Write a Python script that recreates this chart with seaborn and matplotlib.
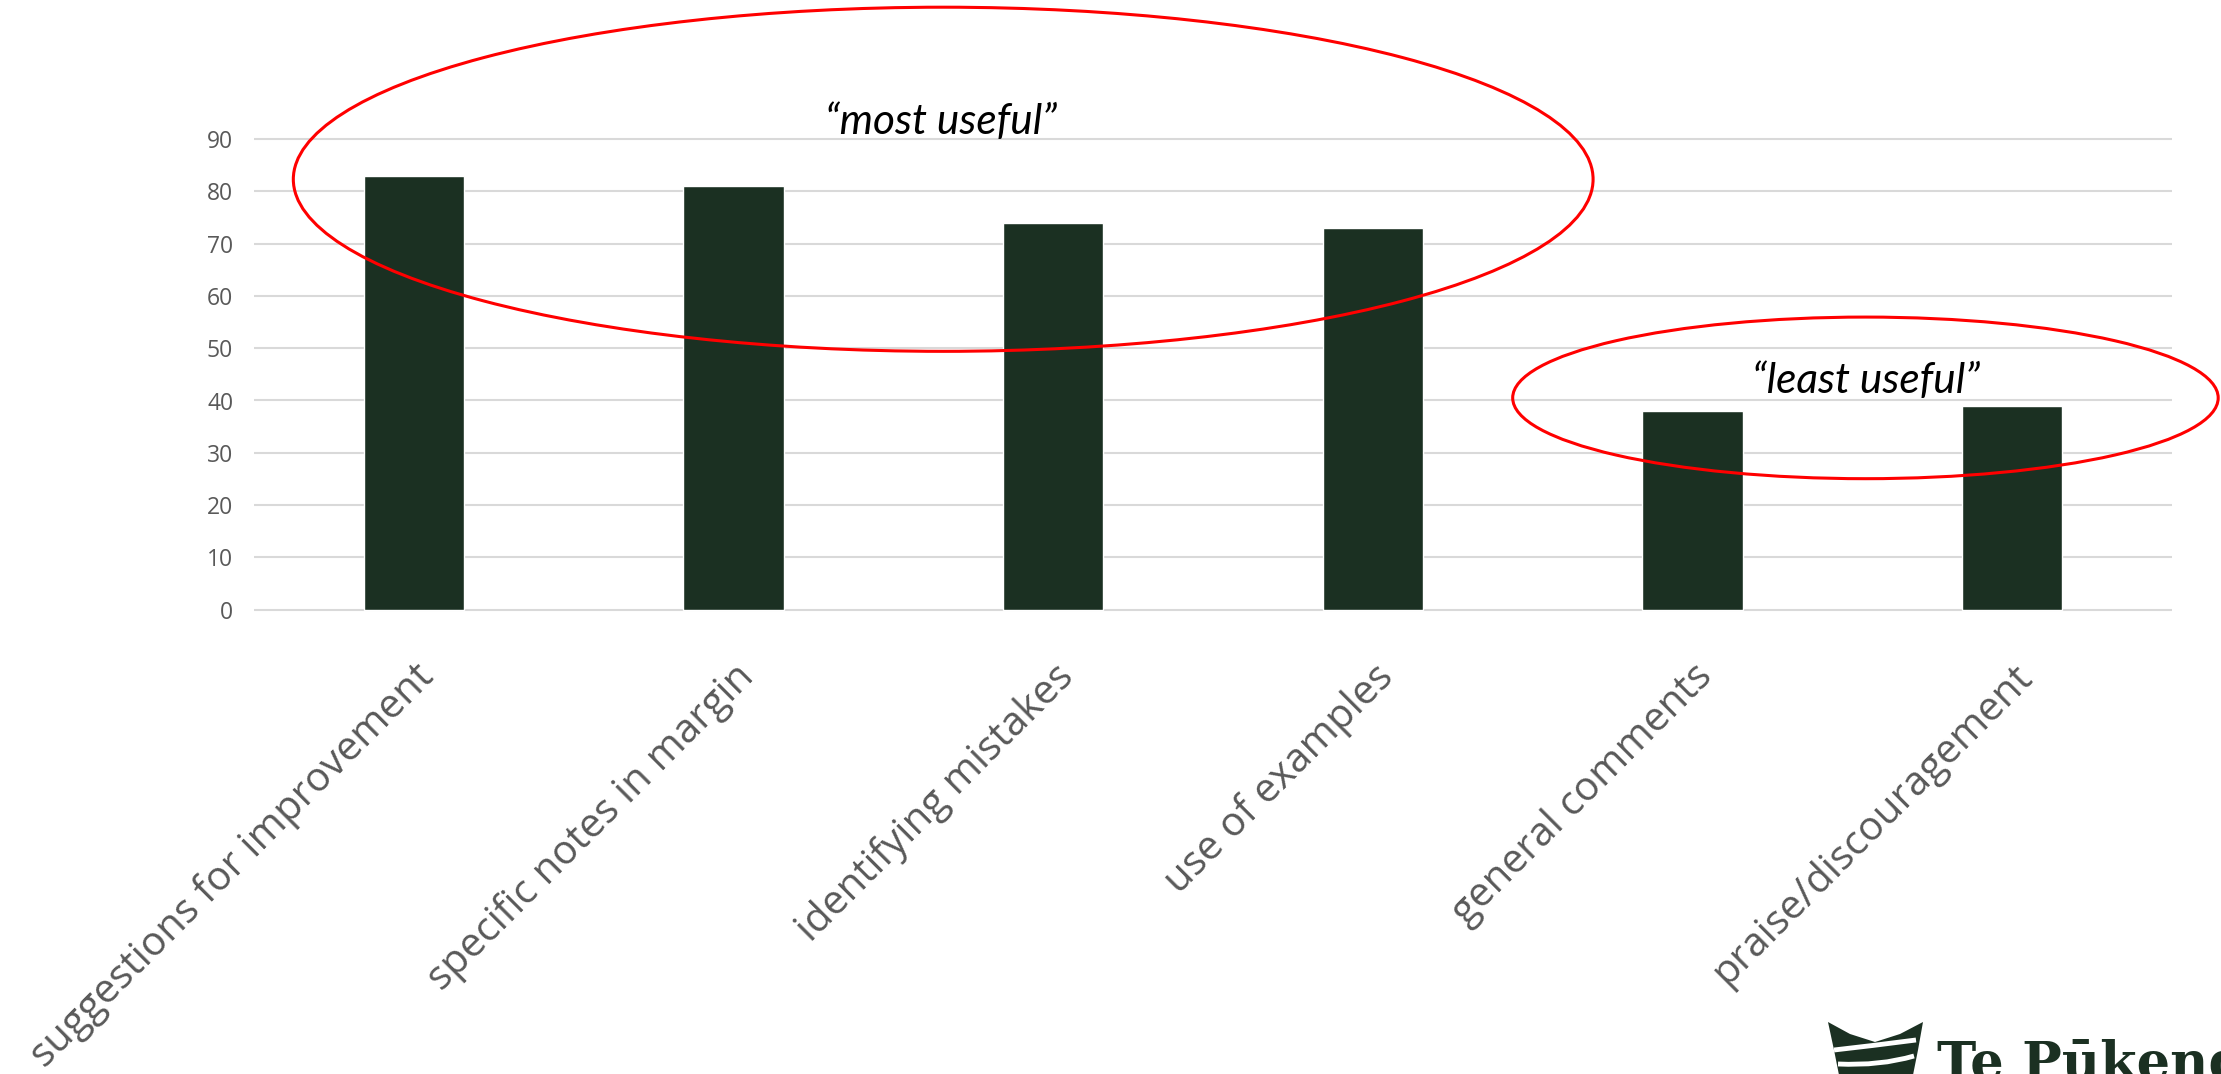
import numpy as np
import pandas as pd
import matplotlib
matplotlib.use("Agg")
import matplotlib.pyplot as plt
import seaborn as sns
from matplotlib.patches import Ellipse, PathPatch, Polygon
from matplotlib.path import Path

# ---- data ----
categories = [
    "suggestions for improvement",
    "specific notes in margin",
    "identifying mistakes",
    "use of examples",
    "general comments",
    "praise/discouragement",
]
counts = [83, 81, 74, 73, 38, 39]
y_ticks = [0, 10, 20, 30, 40, 50, 60, 70, 80, 90]

BAR = "#1b3022"
GRID = "#d9d9d9"
TICK = "#595959"

W, H, DPI = 2221, 1074, 100

sns.set_theme(style="white")
plt.rcParams["font.family"] = ["Open Sans", "DejaVu Sans"]

fig = plt.figure(figsize=(W / DPI, H / DPI), dpi=DPI)

# axes rectangle in pixels (y=0 at 609.7, y=90 at 139)
px_per_unit = (609.7 - 139.0) / 90.0
y_lo, y_hi = -0.5, 90.5
bot_px = 609.7 + 0.5 * px_per_unit
top_px = 139.0 - 0.5 * px_per_unit
left_px, right_px = 254, 2172
ax = fig.add_axes([left_px / W, 1 - bot_px / H,
                   (right_px - left_px) / W, (bot_px - top_px) / H])

df = pd.DataFrame({"category": categories, "count": counts})
sns.barplot(data=df, x="category", y="count", color=BAR, saturation=1,
            width=0.313, ax=ax, zorder=3)

ax.set_xlim(-0.5, len(categories) - 0.5)
ax.set_ylim(y_lo, y_hi)
ax.set_yticks(y_ticks)
ax.yaxis.grid(True, color=GRID, lw=1.5, zorder=0)
ax.xaxis.grid(False)
ax.set_axisbelow(True)
for s in ax.spines.values():
    s.set_visible(False)
ax.tick_params(axis="both", length=0)
ax.tick_params(axis="y", labelsize=16.5, labelcolor=TICK, pad=15)
ax.tick_params(axis="x", pad=32)
ax.set_xticks(range(len(categories)))
ax.set_xticklabels(categories, rotation=45, ha="right", rotation_mode="anchor",
                   fontsize=29, color=TICK)
ax.set_xlabel("")
ax.set_ylabel("")

# ---- highlight ellipses with labels ----
ax.add_patch(Ellipse((1.656, 82.3), 4.066, 65.8, fill=False, ec="red",
                     lw=2.2, clip_on=False, zorder=5))
ax.add_patch(Ellipse((4.541, 40.5), 2.207, 30.9, fill=False, ec="red",
                     lw=2.2, clip_on=False, zorder=5))
ax.text(1.65, 93.3, "\u201cmost useful\u201d", ha="center", va="center",
        fontsize=30.5, style="italic", family=["Lato", "DejaVu Sans"],
        color="black", clip_on=False, zorder=6)
ax.text(4.541, 43.8, "\u201cleast useful\u201d", ha="center", va="center",
        fontsize=30.5, style="italic", family=["Lato", "DejaVu Sans"],
        color="black", clip_on=False, zorder=6)

# ---- logo in the lower right corner ----
def fx(x):
    return x / W

def fy(y):
    return 1 - y / H

body = [(1828, 1022), (1850, 1034), (1875, 1042), (1900, 1034), (1923, 1022),
        (1918, 1050), (1912, 1080), (1840, 1080), (1834, 1050)]
fig.patches.append(Polygon([(fx(x), fy(y)) for x, y in body], closed=True,
                           transform=fig.transFigure, fc=BAR, ec="none"))
for pts in ([(1834, 1050), (1870, 1046), (1916, 1040)],
            [(1838, 1064), (1880, 1066), (1914, 1056)]):
    verts = [(fx(x), fy(y)) for x, y in pts]
    path = Path(verts, [Path.MOVETO, Path.CURVE3, Path.CURVE3])
    fig.patches.append(PathPatch(path, transform=fig.transFigure, fc="none",
                                 ec="white", lw=3.5))
fig.text(fx(1937), fy(1079), "Te P\u016bkenga", fontsize=38, fontweight="bold",
         family=["DejaVu Serif"], color=BAR, ha="left", va="baseline")

fig.savefig("out.png", dpi=DPI, facecolor="white")
